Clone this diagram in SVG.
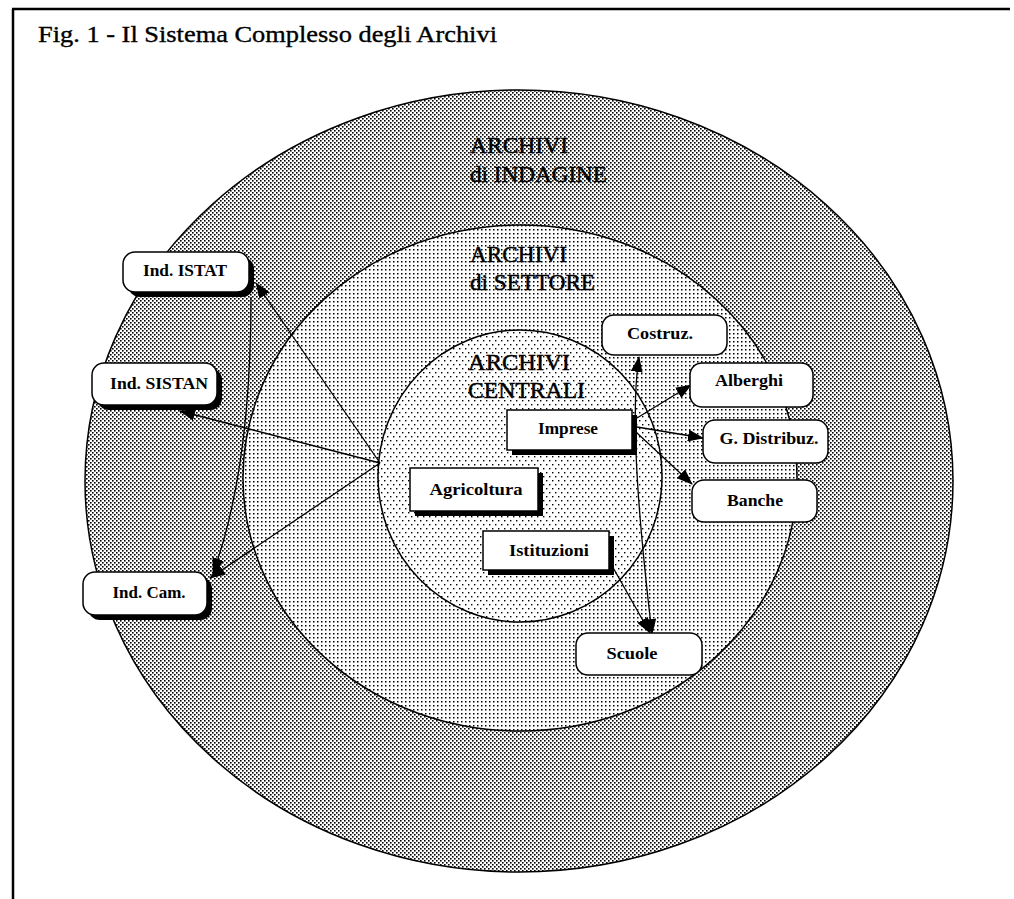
<svg xmlns="http://www.w3.org/2000/svg" width="1014" height="899" viewBox="0 0 1014 899">
<style>
.ring{stroke:#000;stroke-width:1.5}
.lbl{font-family:'Liberation Serif','Times New Roman',serif;font-size:23px;fill:#000;stroke:#000;stroke-width:0.45}
.nt{font-family:'Liberation Serif','Times New Roman',serif;font-size:17px;font-weight:bold;fill:#000;text-anchor:middle}
.box{fill:#fff;stroke:#000;stroke-width:1.5}
.sh{fill:#000}
.conn{fill:none;stroke:#000;stroke-width:1.3}
</style>
<defs>
<pattern id="pOuter" width="4" height="4" patternUnits="userSpaceOnUse">
<rect width="4" height="4" fill="#fff"/>
<rect x="0" y="0" width="1.6" height="1.6" fill="#000"/>
<rect x="2" y="2" width="1.6" height="1.6" fill="#000"/>
</pattern>
<pattern id="pMid" width="4" height="4" patternUnits="userSpaceOnUse">
<rect width="4" height="4" fill="#fff"/>
<rect x="1" y="1" width="1.5" height="1.5" fill="#000"/>
</pattern>
<pattern id="pIn" width="6" height="8" patternUnits="userSpaceOnUse">
<rect width="6" height="8" fill="#fff"/>
<rect x="0" y="0" width="1.4" height="1.4" fill="#000"/>
<rect x="3" y="4" width="1.4" height="1.4" fill="#000"/>
</pattern>
<marker id="arr" viewBox="0 0 16 12" markerWidth="16" markerHeight="12" refX="15" refY="6" orient="auto-start-reverse" markerUnits="userSpaceOnUse">
<path d="M0,0 L16,6 L0,12 z" fill="#000"/>
</marker>
</defs>
<rect width="1014" height="899" fill="#fff"/>
<g id="frame" stroke="#000" stroke-width="2.5" fill="none">
<line x1="12" y1="9" x2="1010" y2="9"/>
<line x1="13" y1="9" x2="13" y2="899"/>
</g>
<text x="38" y="42" font-family="'Liberation Serif','Times New Roman',serif" font-size="23" stroke="#000" stroke-width="0.35" textLength="459" lengthAdjust="spacingAndGlyphs">Fig. 1 - Il Sistema Complesso degli Archivi</text>

<g id="rings">
<ellipse class="ring" cx="519" cy="481" rx="434" ry="391" fill="url(#pOuter)"/>
<ellipse class="ring" cx="520" cy="478" rx="277" ry="253" fill="url(#pMid)"/>
<ellipse class="ring" cx="520" cy="476" rx="142" ry="146" fill="url(#pIn)"/>
</g>

<g id="ring-labels">
<text class="lbl" x="470" y="153" textLength="98" lengthAdjust="spacingAndGlyphs">ARCHIVI</text>
<text class="lbl" x="470" y="182" textLength="137" lengthAdjust="spacingAndGlyphs">di INDAGINE</text>
<text class="lbl" x="470" y="262" textLength="97" lengthAdjust="spacingAndGlyphs">ARCHIVI</text>
<text class="lbl" x="470" y="290" textLength="125" lengthAdjust="spacingAndGlyphs">di SETTORE</text>
<text class="lbl" x="468" y="370" textLength="102" lengthAdjust="spacingAndGlyphs">ARCHIVI</text>
<text class="lbl" x="468" y="398" textLength="117" lengthAdjust="spacingAndGlyphs">CENTRALI</text>
</g>

<g id="connectors">
<line class="conn" x1="380" y1="463" x2="256" y2="283" marker-end="url(#arr)"/>
<line class="conn" x1="380" y1="463" x2="180" y2="411" marker-end="url(#arr)"/>
<line class="conn" x1="380" y1="463" x2="210" y2="578" marker-end="url(#arr)"/>
<path class="conn" d="M251,297 Q251,470 213,573" marker-end="url(#arr)"/>
<path class="conn" d="M639,357 C629,420 641,540 652,634" marker-start="url(#arr)" marker-end="url(#arr)"/>
<line class="conn" x1="637" y1="418" x2="691" y2="385" marker-end="url(#arr)"/>
<line class="conn" x1="637" y1="427" x2="703" y2="438" marker-end="url(#arr)"/>
<line class="conn" x1="637" y1="433" x2="692" y2="484" marker-end="url(#arr)"/>
<line class="conn" x1="611" y1="564" x2="650" y2="633" marker-end="url(#arr)"/>
</g>

<g id="n-istat">
<rect class="sh" x="128" y="257" width="126" height="40" rx="12"/>
<rect class="box" x="123" y="252" width="126" height="40" rx="12"/>
<text class="nt" x="185" y="276" textLength="84" lengthAdjust="spacingAndGlyphs">Ind. ISTAT</text>
</g>
<g id="n-sistan">
<rect class="sh" x="97" y="368" width="125" height="42" rx="12"/>
<rect class="box" x="92" y="363" width="125" height="42" rx="12"/>
<text class="nt" x="159" y="389" textLength="98" lengthAdjust="spacingAndGlyphs">Ind. SISTAN</text>
</g>
<g id="n-cam">
<rect class="sh" x="88" y="577" width="124" height="43" rx="12"/>
<rect class="box" x="83" y="572" width="124" height="43" rx="12"/>
<text class="nt" x="149" y="598" textLength="73" lengthAdjust="spacingAndGlyphs">Ind. Cam.</text>
</g>

<g id="n-costruz">
<rect class="box" x="602" y="315" width="125" height="40" rx="12"/>
<text class="nt" x="660" y="339" textLength="66" lengthAdjust="spacingAndGlyphs">Costruz.</text>
</g>
<g id="n-alberghi">
<rect class="box" x="690" y="363" width="123" height="44" rx="12"/>
<text class="nt" x="749" y="386" textLength="68" lengthAdjust="spacingAndGlyphs">Alberghi</text>
</g>
<g id="n-gdistribuz">
<rect class="box" x="703" y="420" width="125" height="43" rx="12"/>
<text class="nt" x="769" y="444" textLength="99" lengthAdjust="spacingAndGlyphs">G. Distribuz.</text>
</g>
<g id="n-banche">
<rect class="box" x="692" y="480" width="125" height="42" rx="12"/>
<text class="nt" x="755" y="506" textLength="56" lengthAdjust="spacingAndGlyphs">Banche</text>
</g>
<g id="n-scuole">
<rect class="box" x="576" y="633" width="126" height="42" rx="12"/>
<text class="nt" x="632" y="659" textLength="51" lengthAdjust="spacingAndGlyphs">Scuole</text>
</g>

<g id="n-imprese">
<rect class="sh" x="512" y="415" width="125" height="40"/>
<rect class="box" x="507" y="410" width="125" height="40"/>
<text class="nt" x="568" y="434" textLength="60" lengthAdjust="spacingAndGlyphs">Imprese</text>
</g>
<g id="n-agricoltura">
<rect class="sh" x="415" y="473" width="128" height="43"/>
<rect class="box" x="410" y="468" width="128" height="43"/>
<text class="nt" x="476" y="495" textLength="93" lengthAdjust="spacingAndGlyphs">Agricoltura</text>
</g>
<g id="n-istituzioni">
<rect class="sh" x="488" y="536" width="126" height="39"/>
<rect class="box" x="483" y="531" width="126" height="39"/>
<text class="nt" x="549" y="556" textLength="80" lengthAdjust="spacingAndGlyphs">Istituzioni</text>
</g>
</svg>
